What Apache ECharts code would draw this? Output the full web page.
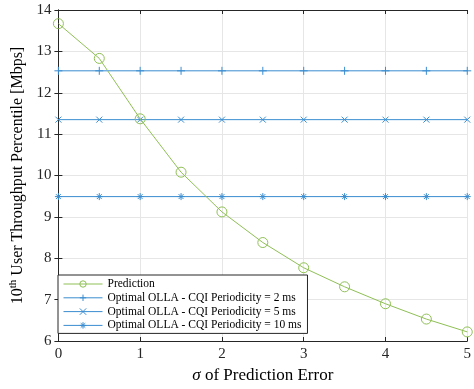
<!DOCTYPE html>
<html>
<head>
<meta charset="utf-8">
<script src="https://cdn.jsdelivr.net/npm/echarts@6/dist/echarts.min.js"></script>
<style>html,body{margin:0;padding:0;background:#fff}#chart{width:474px;height:389px}</style>
</head>
<body>
<div id="chart"></div>
<script>
// sigma of prediction error
const sigmaValues = [0, 0.5, 1, 1.5, 2, 2.5, 3, 3.5, 4, 4.5, 5];
const predictionValues = [13.67, 12.83, 11.37, 10.08, 9.12, 8.38, 7.77, 7.31, 6.90, 6.53, 6.22];
const olla2msValues = [12.53, 12.53, 12.53, 12.53, 12.53, 12.53, 12.53, 12.53, 12.53, 12.53, 12.53];
const olla5msValues = [11.35, 11.35, 11.35, 11.35, 11.35, 11.35, 11.35, 11.35, 11.35, 11.35, 11.35];
const olla10msValues = [9.49, 9.49, 9.49, 9.49, 9.49, 9.49, 9.49, 9.49, 9.49, 9.49, 9.49];
const xTicks = [0, 1, 2, 3, 4, 5];
const yTicks = [6, 7, 8, 9, 10, 11, 12, 13, 14];

const green = '#8fbf55';
const blue = '#3a8dd0';
const axisColor = '#262626';
const font = 'Liberation Serif';

const plusPath = 'path://M5 0L5 10M0 5L10 5';
const crossPath = 'path://M0 0L10 10M10 0L0 10';
const starPath = 'path://M5 0L5 10M0 5L10 5M1.5 1.5L8.5 8.5M8.5 1.5L1.5 8.5';

const pairs = (ys) => sigmaValues.map((x, i) => [x, ys[i]]);

function lineSeries(name, ys, color, symbol, size) {
  return {
    name: name,
    type: 'line',
    data: pairs(ys),
    symbol: symbol,
    symbolSize: size,
    showAllSymbol: true,
    lineStyle: { color: color, width: 1 },
    itemStyle: { color: 'rgba(0,0,0,0)', borderColor: color, borderWidth: 1 },
    emphasis: { disabled: true },
    z: symbol === 'circle' ? 3 : 2
  };
}

const chart = echarts.init(document.getElementById('chart'));
const hiddenLabels = { show: false };
chart.setOption({
  animation: false,
  grid: { left: 53, right: 2, top: 10, bottom: 47 },
  legend: {
    orient: 'vertical',
    left: 58,
    top: 275,
    itemWidth: 39,
    itemHeight: 8,
    itemGap: 1.8,
    padding: [3, 6, 2, 5],
    backgroundColor: '#fff',
    borderColor: axisColor,
    borderWidth: 1,
    lineStyle: { width: 1 },
    itemStyle: { borderWidth: 1 },
    textStyle: { fontFamily: font, fontSize: 11.5, color: '#000' },
    data: ['Prediction', 'Optimal OLLA - CQI Periodicity = 2 ms', 'Optimal OLLA - CQI Periodicity = 5 ms', 'Optimal OLLA - CQI Periodicity = 10 ms']
  },
  xAxis: [{
    type: 'value', min: xTicks[0], max: xTicks[xTicks.length - 1], interval: 1,
    name: '{s|σ} of Prediction Error',
    nameLocation: 'middle', nameGap: 26,
    nameTextStyle: { fontFamily: font, fontSize: 17, color: '#000', rich: { s: { fontFamily: font, fontSize: 17, fontStyle: 'italic', color: '#000' } } },
    axisLine: { lineStyle: { color: axisColor } },
    axisTick: { inside: true, length: 4, lineStyle: { color: axisColor } },
    axisLabel: { fontFamily: font, fontSize: 15, color: '#262626', margin: 6 },
    splitLine: { show: true, lineStyle: { color: '#e6e6e6' } }
  }, {
    type: 'value', position: 'top', min: 0, max: 5, interval: 1,
    axisLine: { lineStyle: { color: axisColor } },
    axisTick: { inside: true, length: 4, lineStyle: { color: axisColor } },
    axisLabel: hiddenLabels, splitLine: { show: false }
  }],
  yAxis: [{
    type: 'value', min: yTicks[0], max: yTicks[yTicks.length - 1], interval: 1,
    name: '{n|10}{sup|th}{n| User Throughput Percentile [Mbps]}',
    nameLocation: 'middle', nameGap: 27, nameRotate: 90,
    nameTextStyle: {
      fontFamily: font, fontSize: 16, color: '#000',
      rich: {
        n: { fontFamily: font, fontSize: 16, color: '#000' },
        sup: { fontFamily: font, fontSize: 11, color: '#000', verticalAlign: 'top', padding: [0, 0, 8, 0] }
      }
    },
    axisLine: { lineStyle: { color: axisColor } },
    axisTick: { inside: true, length: 4, lineStyle: { color: axisColor } },
    axisLabel: { fontFamily: font, fontSize: 15, color: '#262626', margin: 7 },
    splitLine: { show: true, lineStyle: { color: '#e6e6e6' } }
  }, {
    type: 'value', position: 'right', min: 6, max: 14, interval: 1,
    axisLine: { lineStyle: { color: axisColor } },
    axisTick: { inside: true, length: 4, lineStyle: { color: axisColor } },
    axisLabel: hiddenLabels, splitLine: { show: false }
  }],
  series: [
    lineSeries('Prediction', predictionValues, green, 'circle', 10),
    lineSeries('Optimal OLLA - CQI Periodicity = 2 ms', olla2msValues, blue, plusPath, 8),
    lineSeries('Optimal OLLA - CQI Periodicity = 5 ms', olla5msValues, blue, crossPath, 6),
    lineSeries('Optimal OLLA - CQI Periodicity = 10 ms', olla10msValues, blue, starPath, 7)
  ]
});
</script>
</body>
</html>
